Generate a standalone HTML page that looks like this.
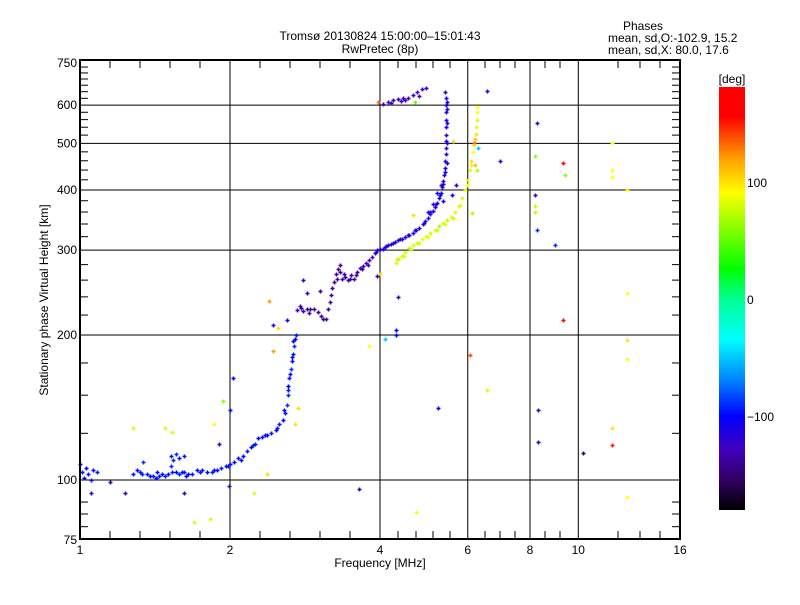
<!DOCTYPE html>
<html><head><meta charset="utf-8"><style>
body{margin:0;background:#fff}
svg text{font-family:"Liberation Sans",sans-serif;font-size:12px;fill:#000}
</style></head><body>
<svg id="c" width="800" height="600" xmlns="http://www.w3.org/2000/svg">
<defs>
<linearGradient id="cb" x1="0" y1="1" x2="0" y2="0">
<stop offset="0" stop-color="#000000"/>
<stop offset="0.07" stop-color="#300060"/>
<stop offset="0.145" stop-color="#4000c0"/>
<stop offset="0.222" stop-color="#0000ff"/>
<stop offset="0.305" stop-color="#0080ff"/>
<stop offset="0.403" stop-color="#00ffff"/>
<stop offset="0.5" stop-color="#00ff90"/>
<stop offset="0.57" stop-color="#00ff00"/>
<stop offset="0.75" stop-color="#ffff00"/>
<stop offset="0.83" stop-color="#ffa000"/>
<stop offset="0.93" stop-color="#ff0000"/>
<stop offset="1" stop-color="#ff0000"/>
</linearGradient>
</defs>
<text x="380" y="40" text-anchor="middle" font-size="13">Tromsø 20130824 15:00:00–15:01:43</text>
<text x="380" y="53" text-anchor="middle" font-size="13">RwPretec (8p)</text>
<text x="643" y="30" text-anchor="middle" font-size="10">Phases</text>
<text x="608" y="42" font-size="10">mean, sd,O:-102.9, 15.2</text>
<text x="608" y="54" font-size="10">mean, sd,X:  80.0, 17.6</text>
<g id="grid"></g>
<g id="pts"></g>
<rect x="80" y="60" width="600" height="479" fill="none" stroke="#000" stroke-width="2"/>
<g id="axes"></g>
<text x="380" y="567" text-anchor="middle" font-size="11">Frequency [MHz]</text>
<text transform="translate(48,300) rotate(-90)" text-anchor="middle" font-size="11">Stationary phase Virtual Height [km]</text>
<rect x="719" y="87" width="26" height="423" fill="url(#cb)"/>
<text x="732" y="83" text-anchor="middle" font-size="13">[deg]</text>
<g id="cbt"></g>
</svg>
<script>
const xTicks=[1,2,4,6,8,10,16];
const yTicks=[75,100,200,300,400,500,600,750];
const cbTicks=[100,0,-100];
// O trace: frequency (MHz), height (km), phase (deg)
const oF=[1.01,1.02,1.03,1.04,1.05,1.06,1.0,1.08,1.28,1.30,1.32,1.34,1.36,1.38,1.40,1.42,1.44,1.46,1.48,1.50,1.52,1.54,1.56,1.58,1.60,1.62,1.65,1.68,1.72,1.76,1.80,1.84,1.88,1.92,1.96,2.0,2.04,2.08,2.12,2.16,2.20,2.24,2.28,2.32,2.37,2.42,2.47,2.51,2.55,2.58,2.60,2.61,2.62,2.63,2.65,2.66,2.67,2.69,2.70,2.71,1.52,1.56,1.58,1.62,
2.73,2.76,2.8,2.85,2.9,2.95,3.0,3.05,3.08,3.12,3.15,3.17,3.19,3.21,3.24,3.27,3.30,3.33,3.36,3.40,3.45,3.50,3.55,3.60,3.65,3.70,3.75,3.80,3.85,
3.9,3.95,4.0,4.05,4.1,4.15,4.2,4.28,4.35,4.42,4.5,4.58,4.65,4.72,4.8,4.87,4.93,5.0,5.05,5.1,5.15,5.2,5.25,5.3,5.33,5.36,5.38,5.40,5.41,5.42,5.42,5.43,5.42,5.43,5.42,5.43,5.42,5.42,5.41,5.0,5.1,5.2,5.3,5.35,
4.05,4.15,4.25,4.35,4.45,4.55,4.65,4.75,4.85,4.95,4.4,
1.33,1.43,1.53,1.63,1.74,1.86,1.98,2.1,2.22,2.35,2.49,2.57,2.62,2.64,2.66,2.68,
2.78,2.88,3.28,3.32,3.38,3.48,3.58,3.68,3.78,3.93,4.12,4.24,4.38,4.55,4.7,4.9,5.05,5.18,5.28,5.35,5.39,5.44,5.45,5.44,5.45,5.44,4.2,4.5,4.8];
const oH=[104,101,106,103,100,105,108,104,103,105,104,109,103,102,102,101,102,103,102,103,107,110,104,103,104,104,103,103,105,105,104,104,105,106,107,108,109,111,112,115,117,119,122,123,124,125,127,131,133,138,143,150,157,163,170,177,183,190,196,200,112,113,111,112,
225,230,224,226,227,226,223,219,216,216,226,234,242,250,258,268,274,270,262,264,260,266,262,270,276,278,282,286,290,
296,300,301,302,304,307,309,312,315,317,320,323,326,330,334,340,345,350,356,362,368,376,385,395,405,418,430,445,460,475,490,505,520,540,560,580,600,620,640,360,375,395,410,380,
602,610,616,618,620,622,630,640,648,652,612,
103,104,104,102,104,105,107,110,118,124,128,140,154,166,180,194,
228,222,262,280,268,262,266,274,280,298,306,310,316,322,330,342,360,374,390,412,435,455,500,550,610,590,606,614,626];
const oP=[-95,-100,-100,-95,-105,-100,-100,-95,-95,-100,-95,-90,-95,-100,-95,-100,-95,-100,-95,-100,-90,-90,-100,-95,-100,-95,-100,-95,-100,-95,-100,-95,-100,-95,-100,-95,-100,-95,-100,-95,-100,-95,-100,-95,-100,-95,-100,-95,-100,-95,-90,-90,-100,-95,-90,-100,-95,-90,-100,-95,-95,-90,-100,-95,
-125,-130,-125,-130,-125,-130,-125,-130,-135,-130,-125,-130,-125,-130,-125,-130,-125,-130,-125,-130,-125,-130,-125,-130,-120,-125,-120,-125,-120,
-110,-105,-110,-105,-110,-105,-110,-105,-110,-105,-110,-105,-110,-105,-110,-105,-110,-105,-110,-105,-110,-105,-110,-105,-110,-105,-110,-105,-110,-105,-110,-105,-110,-105,-110,-105,-110,-105,-110,-105,-110,-105,-110,-105,
-115,-120,-115,-120,-115,-120,-115,-120,-115,-120,-115,
-95,-100,-95,-100,-95,-100,-95,-100,-95,-100,-95,-100,-95,-100,-95,-100,
-125,-130,-125,-130,-125,-130,-125,-120,-115,-110,-105,-110,-105,-110,-105,-110,-105,-110,-105,-110,-105,-110,-105,-110,-105,-110,-120,-115,-120];
// X trace
const xF=[4.3,4.36,4.42,4.5,4.58,4.66,4.75,4.85,4.95,5.05,5.15,5.25,5.35,5.45,5.55,5.65,5.75,5.85,5.93,6.0,6.05,6.1,6.15,6.2,6.22,6.25,4.33,4.46,4.62,4.8,5.0,5.2,5.4,5.6,5.8,5.98,6.08,6.18];
const xH=[282,287,292,298,303,307,311,316,321,326,331,336,341,346,352,360,370,385,400,420,440,460,480,510,540,580,288,292,302,311,320,330,340,350,372,410,450,495];
const xP=[80,85,75,80,70,80,75,85,80,75,80,70,80,75,85,80,75,80,85,90,80,100,90,110,80,90,70,80,75,80,85,75,80,75,85,90,95,100];
// scattered echoes
const sF=[6.56,6.96,8.26,8.2,8.2,8.2,8.2,8.25,9.0,9.3,9.3,9.4,8.3,8.3,10.2,11.7,11.7,11.7,11.7,11.7,12.5,12.5,12.5,12.5,12.5,6.56,6.06,5.23,4.72,3.63,4.35,4.3,4.3,4.0,3.95,3.8,4.1,1.23,1.62,1.28,1.48,1.53,1.86,1.94,1.69,1.82,2.23,2.37,2.4,2.44,2.5,2.7,2.74,2.03,2.0,1.9,2.8,2.44,2.6,1.99,1.15,1.05,2.85,3.03,5.68,5.57,6.25,6.23,6.25,6.27,6.17,6.3,6.2,6.13,4.7,3.96,5.6,4.65];
const sH=[642,460,552,470,390,370,360,330,307,455,215,430,140,120,114,500,440,425,128,118,400,245,195,178,92,154,182,141,86,96,240,200,205,268,265,190,196,94,94,128,128,126,131,146,82,83,94,103,235,185,207,131,141,163,140,119,260,210,215,97,99,94,244,247,409,390,440,524,558,595,500,490,450,358,610,610,505,355];
const sP=[-110,-110,-120,60,-120,70,70,-90,-90,170,170,60,-120,-120,-150,90,90,90,100,150,90,90,100,90,90,80,140,-100,90,-130,-130,-100,-100,100,-110,90,-50,-120,-120,80,80,80,90,60,80,80,80,100,120,120,100,100,100,-100,-100,-110,-110,-110,-105,-120,-130,-120,-110,-130,-110,-100,70,100,80,90,140,-50,110,70,50,130,100,100];

const X0=80,PX=150,Y100=480,PY=145;
function xs(f){return X0+PX*Math.log2(f);}
function ys(h){return Y100-PY*Math.log2(h/100);}
const stops=[[-180,[0,0,0]],[-150,[48,0,96]],[-118,[64,0,192]],[-100,[0,0,255]],[-70,[0,128,255]],[-35,[0,255,255]],[0,[0,255,144]],[25,[0,255,0]],[90,[255,255,0]],[120,[255,160,0]],[155,[255,0,0]],[180,[255,0,0]]];
function col(v){
  for(let i=1;i<stops.length;i++){if(v<=stops[i][0]){const a=stops[i-1],b=stops[i];const t=(v-a[0])/(b[0]-a[0]);
    const c=a[1].map((x,k)=>Math.round(x+(b[1][k]-x)*t));return `rgb(${c})`;}}
  return 'rgb(255,0,0)';
}
const NS='http://www.w3.org/2000/svg';
function el(tag,attrs,parent){const e=document.createElementNS(NS,tag);for(const k in attrs)e.setAttribute(k,attrs[k]);parent.appendChild(e);return e;}
const grid=document.getElementById('grid'),axes=document.getElementById('axes'),pts=document.getElementById('pts'),cbt=document.getElementById('cbt');
[2,4,6,8,10].forEach(f=>{const l=el('line',{x1:xs(f),x2:xs(f),y1:60,y2:539,stroke:'#000','stroke-width':1},grid);

});
[100,200,300,400,500,600].forEach(h=>{const l=el('line',{x1:80,x2:680,y1:ys(h),y2:ys(h),stroke:'#000','stroke-width':1},grid);

});
const xm=[110,140,170,200,260,290,320,350,398,416,433,450,485,500,515,545,560,618,640,660];
xm.forEach(x=>{el('line',{x1:x,x2:x,y1:539,y2:531,stroke:'#000'},axes);el('line',{x1:x,x2:x,y1:60,y2:68,stroke:'#000'},axes);});
const ym=[80,85,90,125,150,175,220,240,260,280,320,340,360,380,420,440,460,480,520,540,560,580,620,640,660,680,700,720];
ym.forEach(h=>{const y=ys(h);el('line',{x1:80,x2:88,y1:y,y2:y,stroke:'#000'},axes);el('line',{x1:672,x2:680,y1:y,y2:y,stroke:'#000'},axes);});
xTicks.forEach(f=>{const t=el('text',{x:xs(f),y:554,'text-anchor':'middle','font-size':11},axes);t.textContent=f;

});
yTicks.forEach(h=>{const t=el('text',{x:77,y:Math.max(ys(h)+4,67),'text-anchor':'end','font-size':11},axes);t.textContent=h;

});
cbTicks.forEach(v=>{const y=300-v*1.17;const t=el('text',{x:747,y:y+4,'font-size':11},cbt);t.textContent=(v<0?'\u2212'+(-v):v);

});
function plot(F,H,P,name){
  for(let i=0;i<F.length;i++){const x=Math.round(xs(F[i]))+0.5,y=Math.round(ys(H[i]))+0.5,c=col(P[i]);
    const p=el('path',{d:`M${x-2} ${y}H${x+2}M${x} ${y-2}V${y+2}`,stroke:c,'stroke-width':1.5,fill:'none'},pts);
    
    }
}
plot(sF,sH,sP,'scatter-echo');
plot(xF,xH,xP,'x-trace-point');
plot(oF,oH,oP,'o-trace-point');
</script>
</body></html>
